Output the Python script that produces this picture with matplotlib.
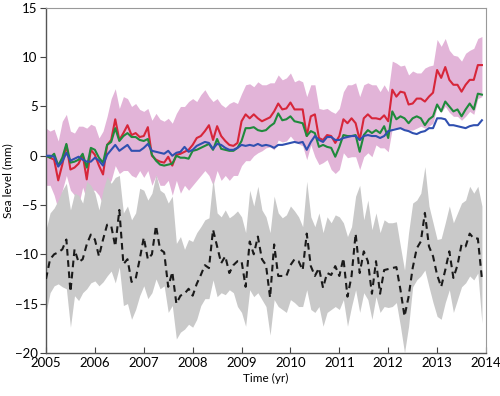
import numpy as np
import matplotlib
matplotlib.use("Agg")
import matplotlib.pyplot as plt

# monthly samples, Jan 2005 .. Dec 2013
months = np.arange(108)

red = [0.0, -0.2, -0.4, -2.5, -0.9, 1.1, -1.4, -1.2, -0.8, 0.1, -2.4, 0.6, 0.1, -1.0, -1.9, 1.1, 1.6, 3.7,
       1.6, 2.3, 3.1, 2.1, 2.3, 1.9, 2.0, 2.9, 0.0,
       -0.4, -0.6, -0.7, -0.1, -1.0, 0.1, 0.2, 0.4, 0.6, 1.1, 1.8, 2.0, 2.5, 3.1, 1.6, 3.0, 2.0, 1.5,
       1.1, 1.0, 1.3, 3.5, 4.2, 3.8, 4.2, 3.8, 3.5,
       3.7, 3.9, 4.5, 5.3, 4.7, 4.8, 5.4, 4.7, 4.7, 4.7, 2.0, 4.0, 4.2, 1.8, 1.6, 2.1, 2.0, 1.3,
       2.0, 3.7, 3.3, 3.8, 3.3, 1.6, 3.8, 4.2, 3.8,
       3.8, 3.7, 4.1, 3.5, 6.7, 6.0, 6.5, 6.4, 5.2, 5.3, 5.8, 5.8, 5.5, 6.0, 6.4, 8.7, 7.9, 9.0,
       7.7, 7.2, 7.2, 6.5, 7.2, 7.7, 7.7, 9.2, 9.2]
green = [0.0, -0.2, 0.2, -1.0, -0.2, 1.2, -0.7, -0.6, -0.4, 0.2, -1.2, 0.8, 0.6, -0.2, -0.7, 1.1, 1.4, 2.8,
         1.5, 2.0, 2.3, 1.9, 1.9, 1.6, 1.5, 1.7, 0.1,
         -0.5, -0.9, -1.0, -0.9, -0.8, 0.0, -0.2, -0.2, -0.3, 0.5, 0.6, 0.8, 1.0, 1.2, 0.6, 1.7, 0.7,
         0.6, 0.5, 0.5, 0.8, 1.5, 2.8, 2.8, 2.9, 2.6, 2.5,
         2.6, 3.0, 3.3, 4.3, 3.6, 3.7, 4.0, 3.5, 3.4, 3.3, 2.0, 2.5, 2.3, 0.9, 1.1, 0.9, 0.8, -0.1,
         0.9, 2.1, 2.0, 2.0, 2.1, 0.4, 2.1, 2.6, 2.3,
         2.6, 2.3, 3.0, 1.8, 4.5, 3.7, 4.0, 3.8, 3.3, 3.8, 4.0, 3.8, 3.1, 3.7, 4.0, 5.2, 4.5, 5.5,
         5.0, 4.5, 4.7, 4.0, 4.7, 5.3, 4.7, 6.3, 6.2]
blue = [0.0, 0.0, -0.1, -1.1, -0.6, 0.3, -0.5, -0.3, -0.1, -0.4, -0.6, -0.6, -0.2, -0.5, -1.0, 0.1, 0.6, 1.1,
        0.5, 0.8, 1.1, 0.5, 0.5, 0.5, 0.8, 1.2, 0.5,
        0.4, 0.3, 0.2, 0.5, 0.0, 0.3, 0.4, 0.9, 0.4, 0.6, 1.0, 1.2, 1.4, 1.3, 0.7, 1.2, 1.1, 0.8,
        0.6, 0.6, 0.8, 1.1, 1.0, 1.1, 1.0, 1.2, 1.0,
        1.1, 1.0, 0.8, 1.1, 1.1, 1.2, 1.3, 1.4, 1.3, 1.4, 0.6, 1.4, 2.0, 1.6, 1.4, 1.9, 1.9, 1.6,
        1.6, 1.8, 1.9, 2.0, 2.0, 1.6, 2.0, 2.1, 2.0,
        2.0, 1.8, 2.0, 2.5, 2.6, 2.7, 2.8, 2.6, 2.5, 2.3, 2.2, 2.4, 2.5, 2.8, 2.8, 3.8, 3.8, 3.7,
        3.1, 3.1, 3.0, 2.9, 2.8, 3.0, 3.1, 3.1, 3.6]
pink_hi = [2.8, 2.5, 2.7, 1.5, 3.5, 4.2, 2.5, 2.3, 3.0, 3.0, 2.8, 3.2, 3.0, 1.8, 2.5, 4.0, 5.8, 6.8,
           4.8, 6.0, 5.8, 5.0, 5.3, 4.7, 4.5, 4.8, 3.6,
           4.3, 3.7, 3.5, 3.8, 3.3, 4.3, 5.0, 5.0, 5.5, 5.8, 5.5, 6.2, 6.7, 6.0, 5.5, 5.8, 5.2, 4.9,
           5.3, 5.5, 5.3, 6.3, 7.2, 7.3, 7.0, 7.5, 7.2,
           7.2, 7.4, 7.4, 8.2, 7.7, 7.9, 8.4, 7.5, 7.7, 7.5, 6.0, 7.2, 7.2, 4.8, 4.7, 4.8, 4.5, 4.3,
           4.8, 6.5, 7.2, 7.2, 7.4, 6.0, 7.2, 7.4, 7.2,
           7.2, 6.5, 7.2, 6.5, 9.6, 9.4, 9.1, 9.2, 8.2, 8.6, 8.4, 8.4, 8.9, 9.1, 9.2, 11.8, 11.1, 11.9,
           10.7, 10.2, 10.1, 9.6, 10.4, 10.7, 10.9, 11.9, 12.1]
pink_lo = [-3.0, -3.0, -4.0, -5.5, -3.5, -2.0, -3.5, -4.0, -5.0, -3.2, -4.5, -3.5, -3.5, -4.0, -5.0, -3.0,
           -2.5, -1.0, -1.8, -1.5, -1.5, -2.0, -2.2, -1.5, -2.2, -1.5, -3.0,
           -2.0, -3.0, -3.0, -2.5, -4.0, -2.5, -3.8, -3.0, -3.5, -3.0, -2.5, -2.0, -1.5, -2.0, -3.0,
           -1.5, -2.5, -2.0, -2.5, -2.0, -2.0, -1.0, -0.5, -0.5, 0.0, 0.3, 0.5,
           0.8, 0.9, 0.6, 1.6, 1.4, 1.5, 2.0, 1.5, 1.2, 1.0, -0.4, 1.1, -0.1, -0.9, -0.7, -0.4, -1.4,
           -1.8, -1.4, 0.3, -0.2, -0.1, -0.1, -1.4, -0.1, 0.3, -0.1,
           1.1, 0.8, 0.8, 0.4, 2.8, 2.8, 2.8, 2.7, 2.6, 2.6, 2.8, 3.0, 2.8, 3.0, 3.3, 5.0, 4.4, 5.0,
           4.4, 4.0, 4.0, 3.6, 4.0, 4.5, 4.2, 5.8, 6.0]
black = [-12.5, -10.5, -10.0, -9.8, -9.5, -8.5, -13.8, -9.5, -10.8, -10.5, -9.0, -8.0, -8.5, -10.2, -8.5,
         -7.0, -7.1, -9.2, -5.5, -11.0, -10.5, -12.8, -12.5, -10.5, -8.3, -10.5, -10.0,
         -7.1, -9.5, -9.8, -13.3, -11.8, -15.0, -14.2, -14.0, -13.5, -14.2, -13.0, -12.1, -11.1, -11.4,
         -7.5, -9.2, -10.9, -10.2, -11.9, -11.1, -10.7, -10.7, -13.3, -8.7, -10.0, -8.2, -10.5,
         -11.1, -14.4, -9.0, -12.2, -12.2, -12.2, -11.1, -10.5, -10.7, -11.6, -7.9, -11.2, -12.2, -11.4,
         -13.4, -11.9, -12.1, -11.2, -12.2, -10.4, -14.3, -12.2, -7.9, -11.9, -9.7, -10.7, -14.0,
         -10.7, -14.0, -11.6, -11.5, -11.4, -11.3, -13.6, -16.3, -14.3, -11.4, -9.4, -8.7, -5.8, -9.2,
         -10.2, -12.1, -13.3, -11.6, -9.7, -12.4, -11.1, -9.0, -9.2, -7.9, -8.4, -8.4, -12.5]
gray_hi = [-7.5, -5.8, -5.3, -4.5, -3.5, -2.8, -5.5, -3.8, -4.0, -4.8, -2.6, -3.0, -3.8, -5.5, -3.5, -2.1,
           -2.8, -2.2, -2.0, -5.8, -5.1, -6.5, -5.8, -3.3, -3.5, -4.5, -3.8,
           -1.9, -3.5, -3.8, -4.8, -4.1, -8.9, -8.2, -9.5, -8.5, -8.7, -7.8, -7.2, -6.5, -6.3, -2.3,
           -5.8, -6.2, -5.5, -6.3, -6.0, -5.6, -6.2, -7.8, -3.5, -5.1, -3.1, -5.5,
           -6.2, -7.8, -4.1, -5.8, -6.3, -6.0, -5.1, -5.6, -6.2, -7.2, -2.6, -6.2, -7.2, -5.8, -7.8,
           -6.2, -6.8, -6.0, -6.2, -6.8, -8.2, -7.2, -4.1, -3.0, -6.5, -4.5, -7.5,
           -5.8, -7.8, -6.5, -6.8, -6.8, -6.7, -9.2, -11.6, -7.8, -4.8, -4.5, -3.8, -1.1, -5.1, -6.8,
           -8.5, -8.4, -6.8, -5.1, -6.8, -5.8, -4.8, -4.5, -3.1, -3.8, -3.1, -5.1]
gray_lo = [-15.9, -13.9, -13.2, -13.0, -13.3, -13.5, -17.4, -14.2, -14.7, -13.9, -13.5, -12.9, -12.7,
           -13.2, -12.8, -12.2, -11.7, -12.9, -11.3, -15.2, -15.0, -16.6, -15.6, -14.2, -13.2, -14.5,
           -13.9, -12.5, -13.5, -13.2, -15.9, -15.2, -18.6, -17.9, -17.6, -17.1, -17.4, -16.6, -15.2,
           -14.5, -14.5, -12.6, -14.3, -13.9, -14.1, -13.6, -13.9, -15.3, -15.9, -17.3, -13.6, -14.3,
           -13.9, -14.6, -15.3, -18.2, -14.6, -15.3, -15.6, -15.9, -14.6, -14.9, -15.3, -15.3, -13.6,
           -15.6, -15.9, -15.3, -17.3, -15.9, -15.6, -15.3, -15.6, -14.6, -17.3, -15.3, -13.6, -15.9,
           -13.9, -14.6, -16.6, -14.3, -15.9, -15.3, -15.4, -15.3, -14.9, -17.3, -20.0, -17.3, -13.3,
           -12.6, -12.2, -11.6, -13.3, -14.9, -16.3, -16.6, -14.9, -13.6, -15.9, -14.6, -13.3, -12.9,
           -12.2, -12.6, -11.9, -17.0]

xticks = [2005, 2006, 2007, 2008, 2009, 2010, 2011, 2012, 2013, 2014]
yticks = [-20, -15, -10, -5, 0, 5, 10, 15]

plt.rcParams["font.family"] = ["Lato", "DejaVu Sans"]
t = 2005 + months / 12

fig = plt.figure(figsize=(5.0, 3.96), dpi=100)
ax = fig.add_axes([0.092, 0.109, 0.880, 0.871])

ax.fill_between(t, pink_lo, pink_hi, color="#e2b4d8", lw=0, zorder=1)
ax.fill_between(t, gray_lo, gray_hi, color="#c9c9c9", lw=0, zorder=1)
ax.plot(t, red, color="#d7263a", lw=1.5, zorder=3)
ax.plot(t, green, color="#1f8a3c", lw=1.5, zorder=3)
ax.plot(t, blue, color="#3050b0", lw=1.5, zorder=3)
ax.plot(t, black, color="#1a1a1a", lw=1.5, ls=(0, (3.2, 2.2)), zorder=3)

ax.set_xlim(2005, 2014)
ax.set_ylim(-20, 15)
ax.set_xticks(xticks)
ax.set_yticks(yticks)
ax.tick_params(axis="x", direction="in", length=4, width=0.8, color="#444", labelsize=9.5, pad=3)
ax.tick_params(axis="y", direction="out", length=4, width=0.8, color="#444", labelsize=9.5, pad=2)
ax.set_xlabel("Time (yr)", fontsize=8.5, labelpad=3)
ax.set_ylabel("Sea level (mm)", fontsize=8.5, labelpad=1)
for s in ("left", "bottom"):
    ax.spines[s].set_color("#555")
    ax.spines[s].set_linewidth(1.0)
for s in ("top", "right"):
    ax.spines[s].set_color("#999")
    ax.spines[s].set_linewidth(0.8)

fig.savefig("out.png", dpi=100)
